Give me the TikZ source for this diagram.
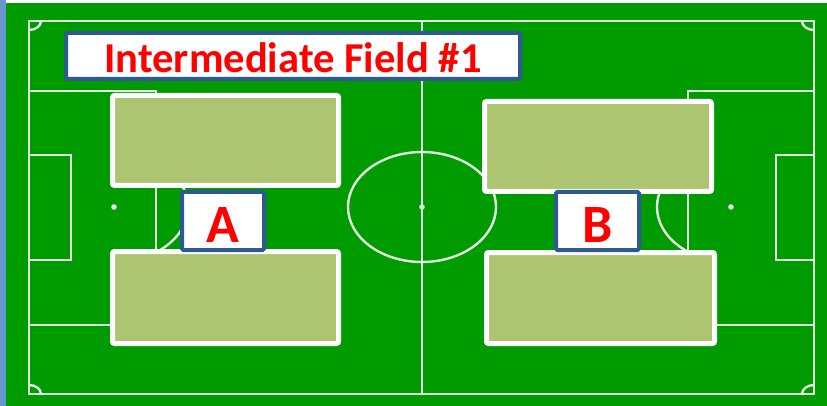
\documentclass[tikz,border=0pt]{standalone}
\usepackage{fontspec}
\setmainfont{Carlito}
\usepackage{tikz}
\definecolor{rasen}{RGB}{0,155,0}
\definecolor{feldolive}{RGB}{173,196,112}
\definecolor{rahmenblau}{RGB}{46,90,145}
\definecolor{randblau}{RGB}{102,150,204}
\definecolor{linie}{RGB}{225,242,225}

\begin{document}
\begin{tikzpicture}[x=1pt, y=-1pt,
				fieldline/.style={draw=linie, line width=2.4pt},
				olivebox/.style={draw=white, fill=feldolive, line width=5pt, rounded corners=2pt, inner sep=0pt, outer sep=0pt},
				labelbox/.style={draw=rahmenblau, fill=white, line width=4pt, rounded corners=1.5pt, inner sep=0pt, text=red, font=\bfseries},
				font=\bfseries]
				%Hintergrund
				\useasboundingbox (0,0) rectangle (827,406);
				\fill[white] (0,0) rectangle (827,406);
				\fill[rasen] (6,3) rectangle (827,406);
				\fill[randblau] (0,0) rectangle (6,406);
				% Spielfeld zeichnen
				\draw[fieldline] (29,21) rectangle (814,394);
				\draw[fieldline] (422,21) -- (422,394);
				\draw[fieldline] (422,207) ellipse [x radius=74, y radius=55];
				% Strafraeume und Torraeume
				\draw[fieldline] (29,91) -- (156,91) -- (156,325) -- (29,325);
				\draw[fieldline] (29,155) -- (71,155) -- (71,260) -- (29,260);
				\draw[fieldline] (814,91) -- (688,91) -- (688,325) -- (814,325);
				\draw[fieldline] (814,155) -- (776,155) -- (776,260) -- (814,260);
				% Punkte
				\foreach \px in {114,422,731} \fill[linie] (\px,207) circle (2.8pt);
				% Strafraumboegen
				\begin{scope}
					\clip (156,0) rectangle (300,406);
					\draw[fieldline] (114,207) ellipse [x radius=74, y radius=55];
				\end{scope}
				\begin{scope}
					\clip (540,0) rectangle (688,406);
					\draw[fieldline] (731,207) ellipse [x radius=74, y radius=55];
				\end{scope}
				% Eckboegen
				\begin{scope}
					\clip (29,21) rectangle (814,394);
					\foreach \cx in {29,814} \foreach \cy in {21,394}
						\draw[fieldline] (\cx,\cy) ellipse [x radius=12, y radius=9];
				\end{scope}
				%Felder
				\node[olivebox, minimum width=226pt, minimum height=90pt] (feldAo) at (225.5,140.5) {};
				\node[olivebox, minimum width=226pt, minimum height=92pt] (feldAu) at (225.5,297.5) {};
				\node[olivebox, minimum width=227pt, minimum height=90pt] (feldBo) at (598,146.5) {};
				\node[olivebox, minimum width=228pt, minimum height=91pt] (feldBu) at (600.5,298) {};
				%Beschriftung
				\node[labelbox, minimum width=454pt, minimum height=46pt, font=\fontsize{42.6}{43}\selectfont\bfseries, text height=33pt, text depth=0pt] (titel) at (293,56) {Intermediate Field \#1};
				\node[labelbox, minimum width=82pt, minimum height=58pt, font=\fontsize{54}{54}\selectfont\bfseries, text height=44pt, text depth=0pt] (seiteA) at (223,221) {A};
				\node[labelbox, minimum width=83pt, minimum height=58pt, font=\fontsize{54}{54}\selectfont\bfseries, text height=44pt, text depth=0pt] (seiteB) at (597.5,221) {B};
			\end{tikzpicture}
\end{document}
